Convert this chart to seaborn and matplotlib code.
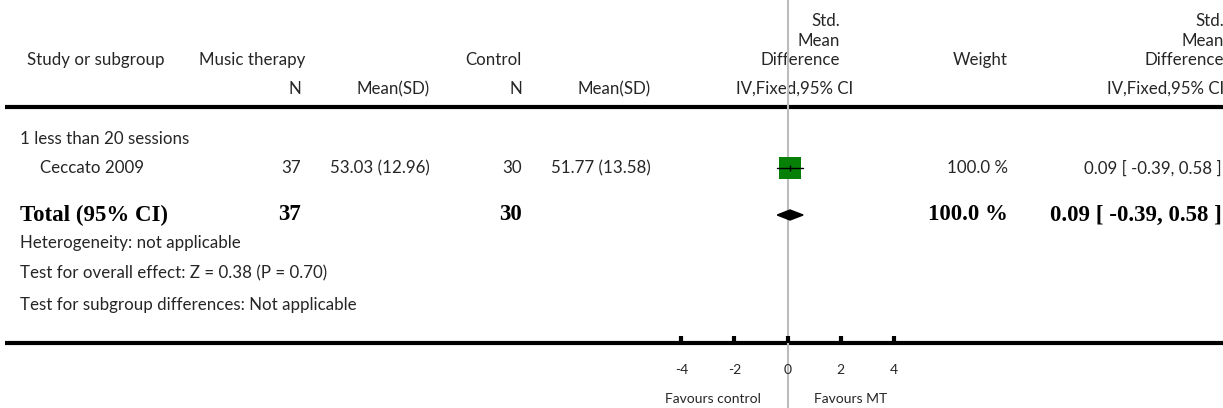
import matplotlib
matplotlib.use("Agg")
import matplotlib.pyplot as plt
import seaborn as sns
import pandas as pd

sns.set_theme(style="white")
plt.rcParams["font.family"] = ["Lato", "DejaVu Sans"]

# ---- data ----
subgroup = "1 less than 20 sessions"
studies = ["Ceccato 2009"]
mt_n = [37]
mt_mean = [53.03]
mt_sd = [12.96]
ctl_n = [30]
ctl_mean = [51.77]
ctl_sd = [13.58]
smd = [0.09]
ci_lo = [-0.39]
ci_hi = [0.58]
weight = [100.0]

total_mt_n = 37
total_ctl_n = 30
total_smd = 0.09
total_lo = -0.39
total_hi = 0.58
total_weight = 100.0

heterogeneity = "Heterogeneity: not applicable"
overall = "Test for overall effect: Z = 0.38 (P = 0.70)"
subgroup_diff = "Test for subgroup differences: Not applicable"
axis_ticks = [-4, -2, 0, 2, 4]
favours_left = "Favours control"
favours_right = "Favours MT"

W, H = 1223, 408
fig = plt.figure(figsize=(W / 100, H / 100), dpi=100)
bg = fig.add_axes([0, 0, 1, 1])
bg.set_xlim(0, W)
bg.set_ylim(H, 0)
bg.axis("off")

TXT = "#262626"
FS = 12.2
fs_kw = dict(fontsize=FS, color=TXT, va="center")

# header
bg.text(27, 60, "Study or subgroup", ha="left", **fs_kw)
bg.text(199, 60, "Music therapy", ha="left", **fs_kw)
bg.text(522, 60, "Control", ha="right", **fs_kw)
bg.text(301, 89, "N", ha="right", **fs_kw)
bg.text(430, 89, "Mean(SD)", ha="right", **fs_kw)
bg.text(522, 89, "N", ha="right", **fs_kw)
bg.text(651, 89, "Mean(SD)", ha="right", **fs_kw)
for x_r in (840, 1224):
    for y, s in zip((21, 41, 60), ("Std.", "Mean", "Difference")):
        bg.text(x_r, y, s, ha="right", **fs_kw)
bg.text(853, 89, "IV,Fixed,95% CI", ha="right", **fs_kw)
bg.text(1224, 89, "IV,Fixed,95% CI", ha="right", **fs_kw)
bg.text(1008, 60, "Weight", ha="right", **fs_kw)

bg.plot([5, W], [107, 107], color="black", lw=3, solid_capstyle="butt")
bg.plot([5, W], [342.5, 342.5], color="black", lw=3, solid_capstyle="butt")

# rows
bg.text(20, 139, subgroup, ha="left", **fs_kw)
row_y = [168]
for i, name in enumerate(studies):
    y = row_y[i]
    bg.text(40, y, name, ha="left", **fs_kw)
    bg.text(301, y, f"{mt_n[i]}", ha="right", **fs_kw)
    bg.text(430, y, f"{mt_mean[i]:.2f} ({mt_sd[i]:.2f})", ha="right", **fs_kw)
    bg.text(522, y, f"{ctl_n[i]}", ha="right", **fs_kw)
    bg.text(651, y, f"{ctl_mean[i]:.2f} ({ctl_sd[i]:.2f})", ha="right", **fs_kw)
    bg.text(1008, y, f"{weight[i]:.1f} %", ha="right", **fs_kw)
    bg.text(1222, y, f"{smd[i]:.2f} [ {ci_lo[i]:.2f}, {ci_hi[i]:.2f} ]", ha="right", **fs_kw)

bold_kw = dict(fontsize=16.5, color="black", va="center", fontweight="bold",
               family=["Liberation Serif", "DejaVu Serif"])
ty = 215
bg.text(20, ty, "Total (95% CI)", ha="left", **bold_kw)
bg.text(301, ty, f"{total_mt_n}", ha="right", **bold_kw)
bg.text(522, ty, f"{total_ctl_n}", ha="right", **bold_kw)
bg.text(1008, ty, f"{total_weight:.1f} %", ha="right", **bold_kw)
bg.text(1222, ty, f"{total_smd:.2f} [ {total_lo:.2f}, {total_hi:.2f} ]", ha="right", **bold_kw)

bg.text(20, 243, heterogeneity, ha="left", **fs_kw)
bg.text(20, 273, overall, ha="left", **fs_kw)
bg.text(20, 305, subgroup_diff, ha="left", **fs_kw)

# forest panel: x axis in effect units, y shares pixel rows
x_left, x_right = 681.3, 894.0
fp = fig.add_axes([x_left / W, 0, (x_right - x_left) / W, 1])
fp.set_xlim(axis_ticks[0], axis_ticks[-1])
fp.set_ylim(H, 0)
fp.axis("off")
fp.patch.set_alpha(0)

fp.plot([0, 0], [0, H], color="#bdbdbd", lw=1.5, clip_on=False, zorder=1)

df = pd.DataFrame({"smd": smd, "y": row_y})
for i in range(len(studies)):
    fp.plot([ci_lo[i], ci_hi[i]], [row_y[i], row_y[i]], color="black", lw=1, zorder=4, clip_on=False)
sns.scatterplot(data=df, x="smd", y="y", marker="s", s=265, color="#078007",
                edgecolor="none", ax=fp, zorder=3, legend=False, clip_on=False)
fp.plot(smd, row_y, marker="|", color="black", ms=4, mew=1, zorder=5, clip_on=False)

dh = 5
fp.fill([total_lo, total_smd, total_hi, total_smd],
        [ty, ty - dh, ty, ty + dh], color="black", zorder=4, clip_on=False)

small_kw = dict(va="center", fontsize=10, color=TXT)
for t in axis_ticks:
    fp.plot([t, t], [336, 342.5], color="black", lw=3, solid_capstyle="butt", clip_on=False)
    fp.text(t, 370, f"{t}", ha="center", **small_kw)
fp.text(-1.0, 399, favours_left, ha="right", **small_kw)
fp.text(1.0, 399, favours_right, ha="left", **small_kw)

fig.savefig("out.png", dpi=100)
